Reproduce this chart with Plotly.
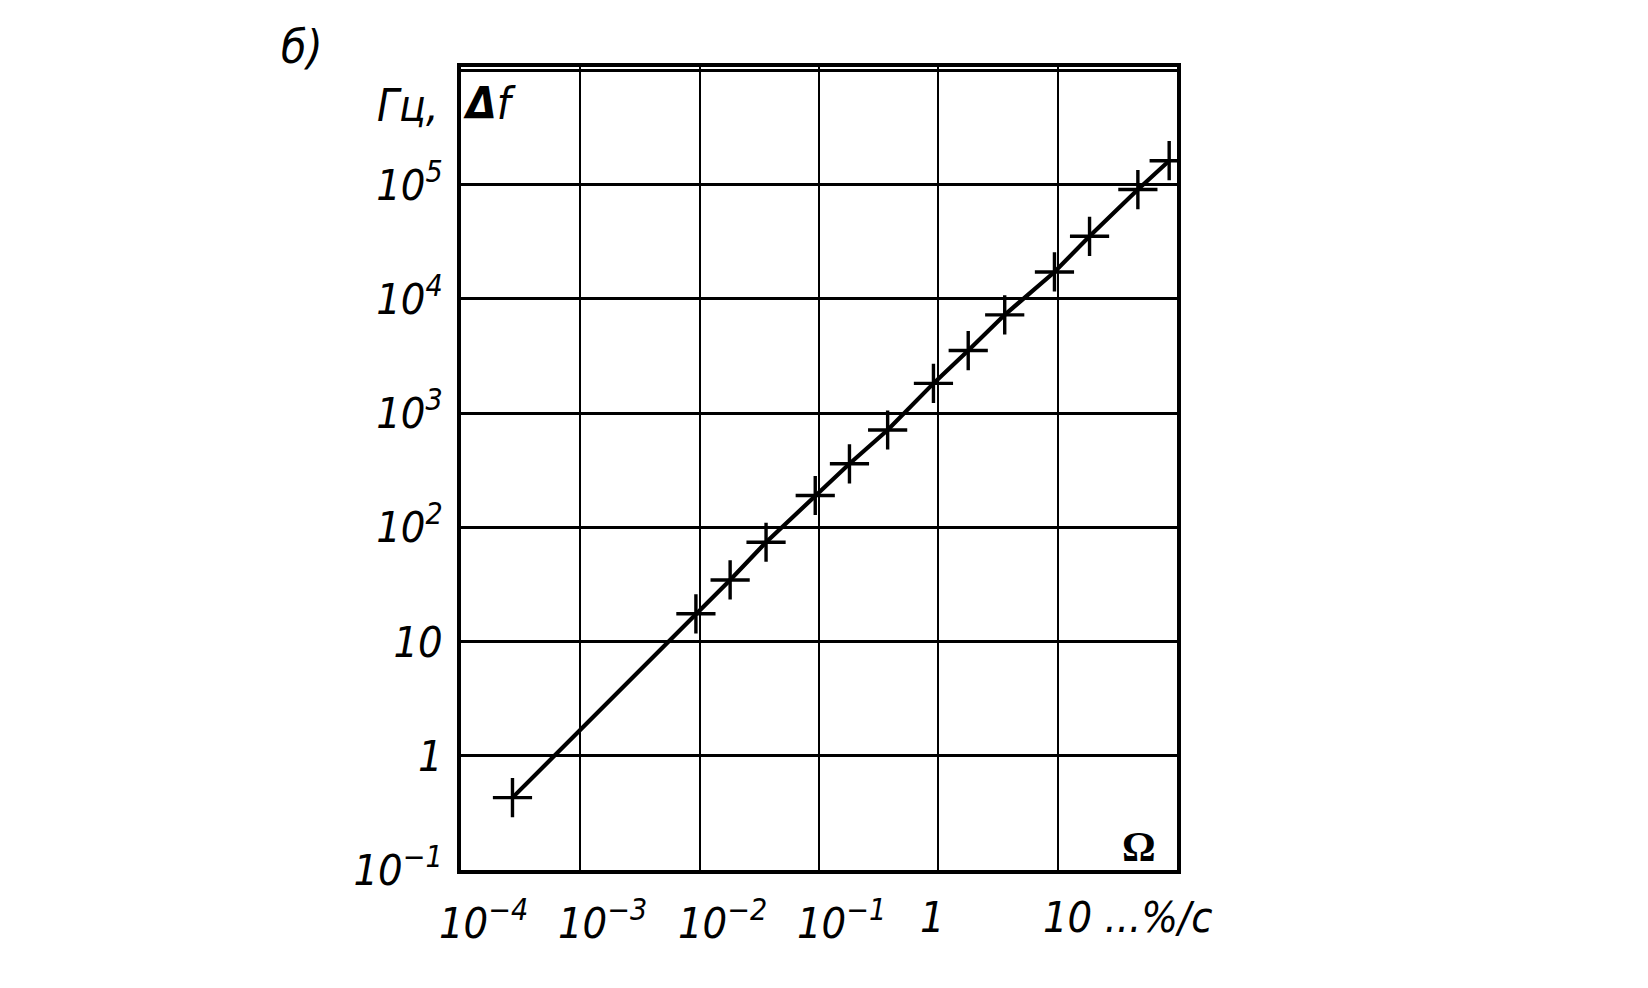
import math
import plotly.graph_objects as go

# ---- data ----
omega = [2.7e-4, 0.0093, 0.018, 0.036, 0.093, 0.18, 0.376, 0.91, 1.78, 3.6, 9.4, 18.5, 47, 86]
delta_f = [0.43, 17.5, 34.6, 74, 190, 360, 711, 1820, 3530, 7250, 17200, 35300, 90600, 162000]

x_tickvals = [1e-4, 1e-3, 1e-2, 1e-1, 1, 10, 100]
x_ticktext = ["10<sup>−4</sup>", "10<sup>−3</sup>", "10<sup>−2</sup>", "10<sup>−1</sup>", "1", "10 ...%/c", ""]
y_tickvals = [0.1, 1, 10, 100, 1e3, 1e4, 1e5, 1e6]
y_ticktext = ["10<sup>−1</sup>", "1", "10", "10<sup>2</sup>", "10<sup>3</sup>", "10<sup>4</sup>", "10<sup>5</sup>", ""]

FONT = "Liberation Sans Narrow, DejaVu Sans Condensed, Liberation Sans, sans-serif"

fig = go.Figure()
fig.add_trace(go.Scatter(
    x=omega, y=delta_f, mode="lines+markers",
    line=dict(color="black", width=4.2),
    marker=dict(symbol="cross-thin", size=28, line=dict(color="black", width=3.4), color="black"),
    hoverinfo="skip",
))

fig.update_xaxes(
    type="log", range=[-4, 2], tickvals=x_tickvals, showticklabels=False,
    showgrid=True, gridcolor="black", gridwidth=2.2,
    showline=True, linecolor="black", linewidth=3.5, mirror=True, zeroline=False,
)
fig.update_yaxes(
    type="log", range=[-1, 6.03], tickvals=y_tickvals, ticktext=y_ticktext,
    showgrid=True, gridcolor="black", gridwidth=2.6,
    showline=True, linecolor="black", linewidth=3.5, mirror=True, zeroline=False,
    ticks="", ticklabelstandoff=6,
    tickfont=dict(family=FONT, size=43, color="black", style="italic"),
)

xfont = dict(family=FONT, size=43, color="black", style="italic")
annotations = []
for v, t in zip(x_tickvals, x_ticktext):
    if not t:
        continue
    if t == "1":
        anchor, shift = "center", -6
    elif t.startswith("10 "):
        anchor, shift = "left", -17
    else:
        anchor, shift = "left", -24
    annotations.append(dict(x=math.log10(v), xref="x", y=0, yref="paper", text=t, showarrow=False,
                            xanchor=anchor, xshift=shift, yanchor="top", yshift=-20, font=xfont))

annotations += [
    dict(x=-0.222, y=1.025, xref="paper", yref="paper", text="б)", showarrow=False,
         xanchor="center", yanchor="middle",
         font=dict(family=FONT, size=46, color="black", style="italic")),
    dict(x=-0.074, y=0.952, xref="paper", yref="paper", text="Гц,", showarrow=False,
         xanchor="center", yanchor="middle",
         font=dict(family=FONT, size=44, color="black", style="italic")),
    dict(x=0.04, y=0.955, xref="paper", yref="paper", text="<b>Δ</b>f", showarrow=False,
         xanchor="center", yanchor="middle",
         font=dict(family=FONT, size=44, color="black", style="italic")),
    dict(x=0.947, y=0.029, xref="paper", yref="paper", text="<b>Ω</b>", showarrow=False,
         xanchor="center", yanchor="middle",
         font=dict(family="Liberation Serif, DejaVu Serif, serif", size=42, color="black")),
]

fig.update_layout(
    width=1640, height=980,
    margin=dict(l=453, r=471, t=59, b=118),
    paper_bgcolor="white", plot_bgcolor="white",
    showlegend=False, annotations=annotations,
)

fig.write_html("out.html")
